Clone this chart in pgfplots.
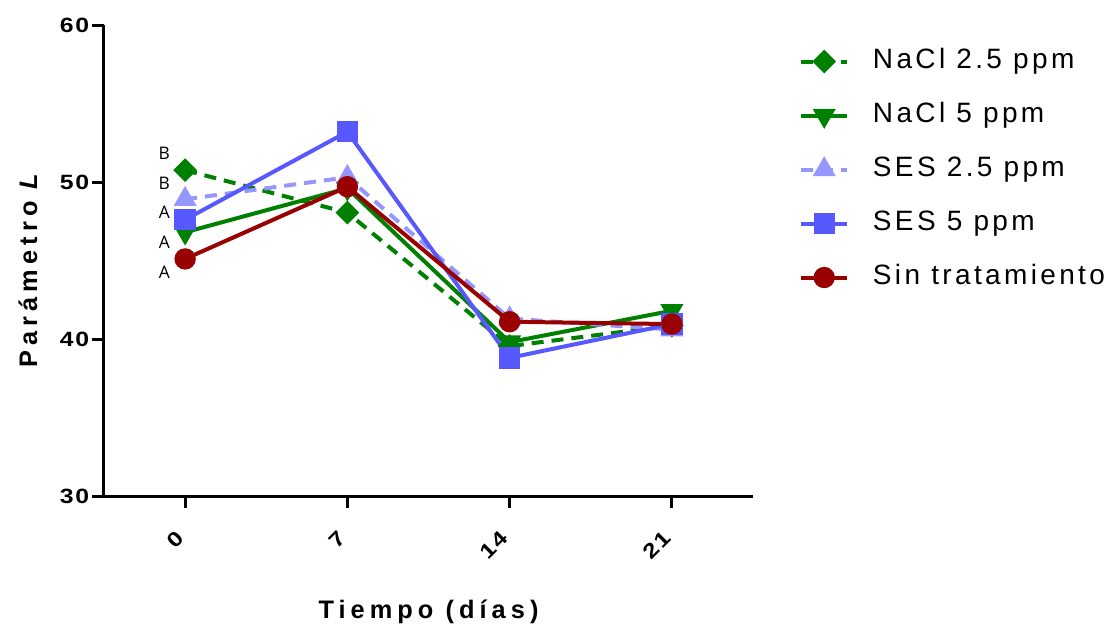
\documentclass[border=0pt]{standalone}
\usepackage{pgfplots}
\pgfplotsset{compat=1.18}
\usepackage{fontspec}
\setmainfont{Liberation Sans}
\newfontfamily\spacedA[LetterSpace=20]{Liberation Sans}
\newfontfamily\spacedB[LetterSpace=12]{Liberation Sans}
\newfontfamily\tickfont[FakeStretch=1.2, LetterSpace=8]{Liberation Sans}
\newfontfamily\letterfont{Open Sans}
\definecolor{cgreen}{RGB}{0,128,0}
\definecolor{clight}{RGB}{150,150,255}
\definecolor{cblue}{RGB}{88,88,255}
\definecolor{cred}{RGB}{153,0,0}
\begin{document}
\begin{tikzpicture}
\useasboundingbox (-78pt,-99.75pt) rectangle (750.75pt,372pt);
\begin{axis}[
  at={(0pt,0pt)}, anchor=south west,
  scale only axis, width=486.75pt, height=353.25pt,
  xmin=-3.5, xmax=24.5, ymin=30, ymax=60,
  xtick={0,7,14,21}, ytick={30,40,50,60},
  xticklabels={0,7,14,21}, yticklabels={30,40,50,60},
  axis x line=bottom, axis y line=left,
  axis line style={-, line width=2.25pt},
  every tick/.style={line width=2.25pt, black},
  major tick length=9pt, tick align=outside,
  xticklabel style={font=\fontsize{15.5}{17}\selectfont\tickfont\bfseries, yshift=-19pt, xshift=-3pt, rotate=45, anchor=east, inner sep=1pt},
  yticklabel style={font=\fontsize{15.5}{17}\selectfont\tickfont\bfseries, inner sep=2pt},
  xlabel={Tiempo (días)},
  ylabel={Parámetro \textit{L}},
  xlabel style={font=\fontsize{19}{21}\spacedA\bfseries, at={(axis description cs:0.5,-0.246)}, anchor=center},
  ylabel style={font=\fontsize{19}{21}\spacedA\bfseries, at={(axis description cs:-0.117,0.484)}, anchor=center},
  clip=false,
  every axis plot/.append style={line width=3pt},
  legend image code/.code={\draw[mark repeat=2, mark phase=2] plot coordinates {(0cm,0cm) (0.6cm,0cm) (1.2cm,0cm)};},
  legend style={at={(axis description cs:1.065,0.957)}, anchor=north west, draw=none, fill=none,
    font=\fontsize{21}{24}\spacedB, row sep=20.5pt, column sep=18pt,
    nodes={inner sep=0pt, text height=15pt, text depth=5pt}},
  legend cell align=left,
]
\addplot[cgreen, dash pattern=on 9pt off 6pt, mark=square*, mark size=4.8pt, mark options={solid, rotate=45}]
  coordinates {(0,50.75) (7,48.05) (14,39.55) (21,40.85)};
\addplot[cgreen, mark=triangle*, mark size=7pt, mark options={solid, rotate=180}]
  coordinates {(0,46.8) (7,49.6) (14,39.8) (21,41.8)};
\addplot[clight, dash pattern=on 9pt off 6pt, mark=triangle*, mark size=7pt, mark options={solid}]
  coordinates {(0,48.9) (7,50.3) (14,41.3) (21,40.6)};
\addplot[cblue, mark=square*, mark size=6.5pt, mark options={solid}]
  coordinates {(0,47.6) (7,53.2) (14,38.8) (21,40.95)};
\addplot[cred, mark=*, mark size=6.5pt, mark options={solid}]
  coordinates {(0,45.1) (7,49.7) (14,41.1) (21,40.95)};
\legend{NaCl 2.5 ppm, NaCl 5 ppm, SES 2.5 ppm, SES 5 ppm, Sin tratamiento}
\node[font=\fontsize{13}{15}\letterfont] at (axis cs:-0.9,51.85) {B};
\node[font=\fontsize{13}{15}\letterfont] at (axis cs:-0.9,49.94) {B};
\node[font=\fontsize{13}{15}\letterfont] at (axis cs:-0.9,48.09) {A};
\node[font=\fontsize{13}{15}\letterfont] at (axis cs:-0.9,46.18) {A};
\node[font=\fontsize{13}{15}\letterfont] at (axis cs:-0.9,44.27) {A};
\end{axis}
\end{tikzpicture}
\end{document}
